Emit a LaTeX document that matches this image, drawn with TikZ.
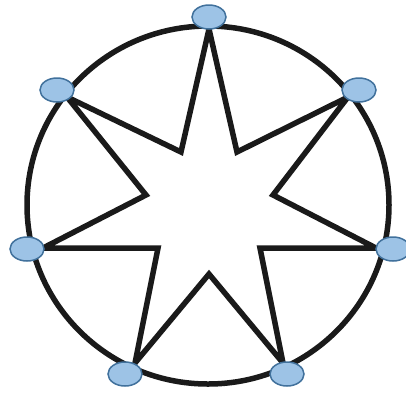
\documentclass[tikz,border=0pt]{standalone}
\usetikzlibrary{shapes.geometric}
\definecolor{dotfill}{HTML}{9DC3E6}
\definecolor{dotborder}{HTML}{41719C}
\definecolor{ink}{HTML}{1A1A1A}
\begin{document}
\begin{tikzpicture}[x=1pt,y=-1pt,
  dot/.style={ellipse, draw=dotborder, fill=dotfill, line width=1.5pt,
    minimum width=34pt, minimum height=24pt, inner sep=0pt},
  ring/.style={draw=ink, line width=5.5pt},
  starline/.style={draw=ink, line width=5.5pt, line join=miter}]
\useasboundingbox (0,0) rectangle (406,392);
% outer tips
\coordinate (t1) at (209,29);
\coordinate (t2) at (348,97);
\coordinate (t3) at (376,248);
\coordinate (t4) at (283,363);
\coordinate (t5) at (135,363);
\coordinate (t6) at (43,248);
\coordinate (t7) at (67,97);
% inner vertices
\coordinate (i1) at (237,152);
\coordinate (i2) at (273,195);
\coordinate (i3) at (260,248);
\coordinate (i4) at (209,274);
\coordinate (i5) at (158,248);
\coordinate (i6) at (146,195);
\coordinate (i7) at (181,152);
% circle
\path[ring] (208,205) ellipse [x radius=181, y radius=179];
% star
\path[starline] (t1) -- (i1) -- (t2) -- (i2) -- (t3) -- (i3) -- (t4) -- (i4)
  -- (t5) -- (i5) -- (t6) -- (i6) -- (t7) -- (i7) -- cycle;
% dots
\node[dot] (d1) at (209,17) {};
\node[dot] (d2) at (359,90) {};
\node[dot] (d3) at (393,249) {};
\node[dot] (d4) at (287,374) {};
\node[dot] (d5) at (125,374) {};
\node[dot] (d6) at (27,249) {};
\node[dot] (d7) at (57,90) {};
\end{tikzpicture}
\end{document}
